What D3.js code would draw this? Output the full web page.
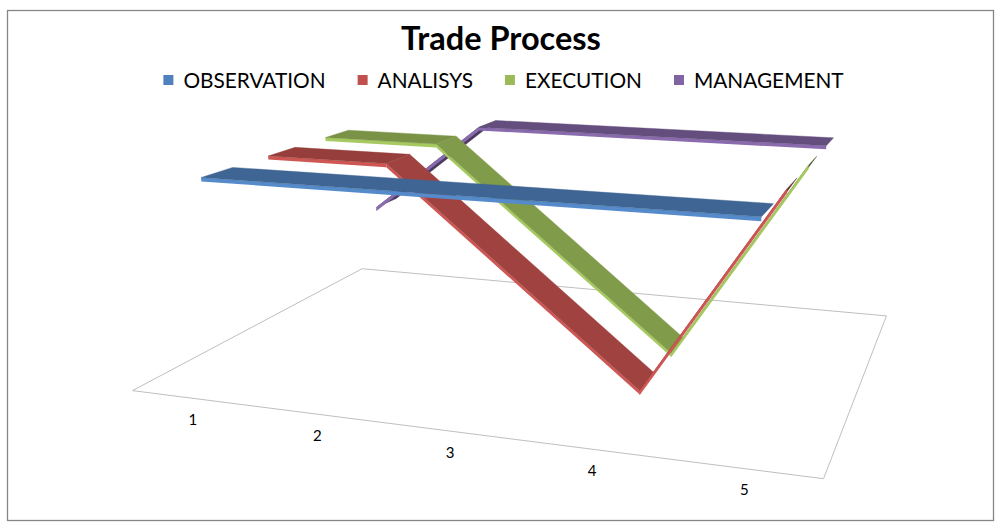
<!DOCTYPE html>
<html>
<head>
<meta charset="utf-8">
<script src="https://cdn.jsdelivr.net/npm/d3@7"></script>
<style>
  body { margin: 0; background: #fff; }
  svg { display: block; }
  text { font-family: Lato, "Open Sans", sans-serif; }
</style>
</head>
<body>
<svg id="chart" width="1003" height="528"></svg>
<script>
// Données du graphique
const categories = ["1", "2", "3", "4", "5"];
const seriesNames = ["OBSERVATION", "ANALISYS", "EXECUTION", "MANAGEMENT"];
const seriesColors = ["#4F81BD", "#C0504D", "#9BBB59", "#8064A2"];
const observation = [2, 2, 2, 2, 2];
const analisys = [2, 2, 1, 0, 2];
const execution = [2, 2, 1, 0, 2];
const management = [1, 2, 2, 2, 2];
const seriesValues = [observation, analisys, execution, management];

// Caméra 3D (rotation, inclinaison, perspective)
const camera = {
  phi: 0.3465, theta: 0.24, dist: 2.3385, focal: 1461.5,
  tx: 0.0632, ty: -0.1378, cx: 501.5, cy: 264
};
const floorDepth = 0.7891;   // profondeur du plancher (largeur = 1)
const wallHeight = 0.3139;   // hauteur pour la valeur max

// Échelles (coordonnées du monde)
const x = d3.scaleBand().domain(categories).range([-0.5, 0.5]);
const z = d3.scaleBand().domain(seriesNames).range([-floorDepth / 2, floorDepth / 2]);
const y = d3.scaleLinear().domain([0, 2]).range([0, wallHeight]);
const xc = c => x(c) + x.bandwidth() / 2;
const zc = s => z(s) + z.bandwidth() / 2;

function project(X, Y, Z) {
  const { phi, theta, dist, focal, tx, ty, cx, cy } = camera;
  const xr = X * Math.cos(phi) + Z * Math.sin(phi);
  const zr = -X * Math.sin(phi) + Z * Math.cos(phi);
  const yr = Y * Math.cos(theta) + zr * Math.sin(theta);
  const zz = -Y * Math.sin(theta) + zr * Math.cos(theta);
  const s = focal / (dist + zz);
  return [cx + (xr + tx) * s, cy - (yr + ty) * s];
}

const svg = d3.select("#chart");
const line = d3.line();
const poly = pts => line(pts.map(p => project(p[0], p[1], p[2]))) + "Z";

// Bordure
svg.append("rect").attr("x", 7.5).attr("y", 10.5).attr("width", 986).attr("height", 510)
  .attr("fill", "none").attr("stroke", "#868686").attr("stroke-width", 1.3);

// Plancher
const [xa, xb] = x.range(), [za, zb] = z.range();
svg.append("path")
  .attr("d", poly([[xa, 0, za], [xa, 0, zb], [xb, 0, zb], [xb, 0, za]]))
  .attr("fill", "none").attr("stroke", "#BFBFBF").attr("stroke-width", 1);

// Rubans (de l'arrière vers l'avant)
const light = [0.45, 0.8, -0.4];
const lightLen = Math.hypot(...light);
const ribbonWidth = z.bandwidth() * 0.45;
const thick = wallHeight * 0.018;

d3.range(seriesNames.length).reverse().forEach(j => {
  const vals = seriesValues[j];
  const zm = zc(seriesNames[j]);
  const zf = zm - ribbonWidth / 2, zk = zm + ribbonWidth / 2;
  const base = d3.rgb(seriesColors[j]);
  const g = svg.append("g").attr("class", "series");

  // regrouper les segments de même pente
  const runs = [];
  for (let i = 0; i < categories.length - 1; i++) {
    const slope = vals[i + 1] - vals[i];
    const last = runs[runs.length - 1];
    if (last && last.slope === slope) last.end = i + 1;
    else runs.push({ start: i, end: i + 1, slope });
  }

  runs.forEach(r => {
    const x0 = xc(categories[r.start]), x1 = xc(categories[r.end]);
    const y0 = y(vals[r.start]), y1 = y(vals[r.end]);
    const dx = x1 - x0, dy = y1 - y0, len = Math.hypot(dx, dy);
    const n = [-dy / len, dx / len, 0];
    const k = 0.42 + 0.45 * (n[0] * light[0] + n[1] * light[1] + n[2] * light[2]) / lightLen;
    const top = d3.rgb(base.r * k, base.g * k, base.b * k);
    const edge = base.brighter(0.2);
    const topFace = () => g.append("path")
      .attr("d", poly([[x0, y0, zf], [x1, y1, zf], [x1, y1, zk], [x0, y0, zk]]))
      .attr("fill", top).attr("stroke", top).attr("stroke-width", 0.4);
    const frontFace = () => g.append("path")
      .attr("d", poly([[x0, y0, zf], [x1, y1, zf], [x1, y1 - thick, zf], [x0, y0 - thick, zf]]))
      .attr("fill", edge).attr("stroke", edge).attr("stroke-width", r.slope > 0 ? 0.8 : 0);
    if (r.slope > 0) { topFace(); frontFace(); }
    else { frontFace(); topFace(); }
  });
});

// Étiquettes de catégories
categories.forEach(c => {
  const p = project(xc(c), 0, za);
  svg.append("text").attr("x", p[0] + 1).attr("y", p[1] + 27)
    .attr("text-anchor", "middle").attr("font-size", "15px").attr("fill", "#000")
    .text(c);
});

// Titre
svg.append("text").attr("x", 501).attr("y", 50).attr("text-anchor", "middle")
  .attr("font-size", "32.5px").attr("font-weight", "bold").attr("fill", "#000")
  .text("Trade Process");

// Légende
const legend = svg.append("g");
let lx = 0;
seriesNames.forEach((name, j) => {
  const it = legend.append("g").attr("transform", `translate(${lx},0)`);
  it.append("rect").attr("x", 0).attr("y", 75).attr("width", 10).attr("height", 10)
    .attr("fill", seriesColors[j]);
  const t = it.append("text").attr("x", 20).attr("y", 87.5).attr("font-size", "20.8px")
    .attr("fill", "#000").text(name);
  lx += 20 + t.node().getComputedTextLength() + 32;
});
legend.attr("transform", `translate(${503.5 - (lx - 32) / 2},0)`);
</script>
</body>
</html>
